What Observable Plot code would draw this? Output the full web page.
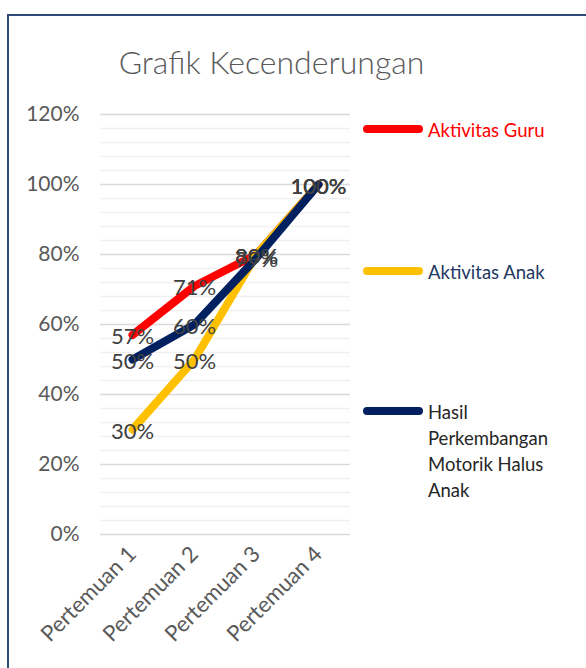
<!DOCTYPE html>
<html>
<head>
<meta charset="utf-8">
<script src="https://cdn.jsdelivr.net/npm/d3@7"></script>
<script src="https://cdn.jsdelivr.net/npm/@observablehq/plot@0.6"></script>
<style>
  html, body { margin:0; padding:0; background:#fff; overflow:hidden; width:586px; height:668px; }
  #wrap { position:relative; width:586px; height:668px; overflow:hidden; font-family:Lato, "Open Sans", sans-serif; }
  #frame { position:absolute; left:7px; top:14px; width:579px; height:654px; border-left:2px solid #2f4a78; border-top:2px solid #2f4a78; box-sizing:border-box; }
  #chart { position:absolute; left:0; top:0; }
  #title { position:absolute; left:0; width:543px; top:42px; text-align:center; font-size:32px; font-weight:300; color:#595959; line-height:40px; white-space:nowrap; }
  .leg { position:absolute; left:363px; }
  .sw { position:absolute; left:0; width:60px; height:8px; border-radius:4px; }
  .lt { position:absolute; left:65px; font-size:18.5px; line-height:26px; white-space:nowrap; }
</style>
</head>
<body>
<div id="wrap">
  <div id="frame"></div>
  <div id="chart"></div>
  <div id="title"></div>
  <div id="legend"></div>
</div>
<script>
const categories = ["Pertemuan 1", "Pertemuan 2", "Pertemuan 3", "Pertemuan 4"];
const seriesNames = ["Aktivitas Guru", "Aktivitas Anak", "Hasil Perkembangan Motorik Halus Anak"];
const legendLines = [["Aktivitas Guru"], ["Aktivitas Anak"], ["Hasil", "Perkembangan", "Motorik Halus", "Anak"]];
const guru = [0.57, 0.71, 0.80, 1.00];
const anak = [0.30, 0.50, 0.80, 1.00];
const hasil = [0.50, 0.60, 0.79, 1.00];
const colors = ["#ff0000", "#ffc000", "#002060"];
const legendTextColors = ["#ff0000", "#1f3864", "#262626"];
const majorTicks = [0, 0.2, 0.4, 0.6, 0.8, 1.0, 1.2];
const minorTicks = [0.04, 0.08, 0.12, 0.16, 0.24, 0.28, 0.32, 0.36, 0.44, 0.48, 0.52, 0.56, 0.64, 0.68, 0.72, 0.76, 0.84, 0.88, 0.92, 0.96, 1.04, 1.08, 1.12, 1.16];
const titleText = "Grafik Kecenderungan";

const values = [guru, anak, hasil];
const rows = [];
values.forEach((arr, si) => arr.forEach((v, i) => rows.push({series: seriesNames[si], cat: categories[i], value: v})));
const pct = d => Math.round(d * 100) + "%";

const lineMarks = seriesNames.map((s, si) =>
  Plot.line(rows.filter(r => r.series === s), {x: "cat", y: "value", stroke: colors[si], strokeWidth: 8, strokeLinecap: "round", strokeLinejoin: "round"})
);

const chart = Plot.plot({
  width: 586,
  height: 668,
  marginLeft: 100,
  marginRight: 236,
  marginTop: 114,
  marginBottom: 134,
  style: {fontFamily: "Lato, 'Open Sans', sans-serif", background: "transparent"},
  x: {type: "point", domain: categories, padding: 0.5},
  y: {domain: [0, 1.2]},
  marks: [
    Plot.ruleY(minorTicks, {stroke: "#f0f0f0", strokeWidth: 1.3}),
    Plot.ruleY(majorTicks, {stroke: "#d9d9d9", strokeWidth: 1.3}),
    ...lineMarks,
    Plot.text(rows, {x: "cat", y: "value", text: d => pct(d.value), fill: "#404040", fontSize: 22, dy: 2}),
    Plot.axisY({ticks: majorTicks, tickFormat: pct, tickSize: 0, tickPadding: 21, fontSize: 21, color: "#595959", label: null}),
    Plot.axisX({tickRotate: -45, tickSize: 0, tickPadding: 16, fontSize: 22, color: "#595959", label: null})
  ]
});
document.getElementById("chart").appendChild(chart);
document.getElementById("title").textContent = titleText;

const legendTops = [129, 271, 411];
const legend = document.getElementById("legend");
legendLines.forEach((lines, i) => {
  const g = document.createElement("div");
  g.className = "leg";
  g.style.top = legendTops[i] + "px";
  const sw = document.createElement("div");
  sw.className = "sw";
  sw.style.background = colors[i];
  sw.style.top = "-4px";
  g.appendChild(sw);
  const t = document.createElement("div");
  t.className = "lt";
  t.style.top = "-12px";
  t.style.color = legendTextColors[i];
  t.innerHTML = lines.join("<br>");
  g.appendChild(t);
  legend.appendChild(g);
});
</script>
</body>
</html>
